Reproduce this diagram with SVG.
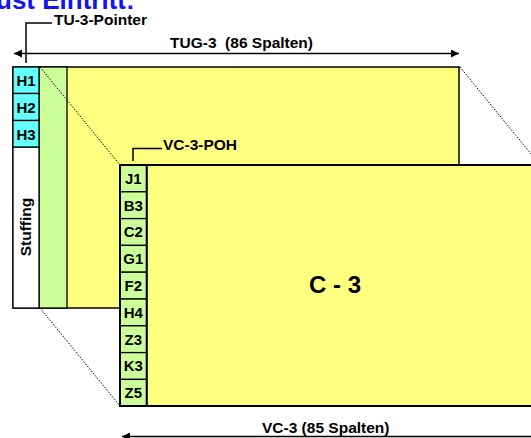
<svg xmlns="http://www.w3.org/2000/svg" width="531" height="438" viewBox="0 0 531 438">
<style>
text{font-family:"Liberation Sans",Arial,sans-serif;font-weight:bold;fill:#000}
.lbl{font-size:15.5px}
.cell{font-size:15px;text-anchor:middle}
.cy{fill:#66FFFF;stroke:#000;stroke-width:1.3}
.gr{fill:#CCFF99;stroke:#000;stroke-width:1.3}
.ye{fill:#FFFF80;stroke:#000;stroke-width:1.5}
.dot{stroke:#000;stroke-width:1;stroke-dasharray:1.5 1.5;fill:none}
.ln{stroke:#000;stroke-width:1.5;fill:none}
</style>
<defs>
<marker id="ah" viewBox="0 0 10 10" refX="10" refY="5" markerWidth="10" markerHeight="8" markerUnits="userSpaceOnUse" orient="auto-start-reverse">
<path d="M0,0 L10,5 L0,10 z" fill="#000"/>
</marker>
</defs>
<text x="-4" y="9" style="font-size:26px;fill:#1414F0">ust Eintritt:</text>

<g id="tug3">
<rect class="ye" x="13" y="67" width="446" height="241"/>
<rect class="gr" x="39" y="67" width="28" height="241"/>
<rect x="13" y="147" width="26" height="161" fill="#fff" stroke="#000" stroke-width="1.3"/>
<text class="lbl" transform="translate(31,227) rotate(-90)" text-anchor="middle">Stuffing</text>
</g>
<g id="h1"><rect class="cy" x="13" y="67" width="26" height="26.5"/><text class="cell" x="26" y="85.5">H1</text></g>
<g id="h2"><rect class="cy" x="13" y="93.5" width="26" height="27"/><text class="cell" x="26" y="112.5">H2</text></g>
<g id="h3"><rect class="cy" x="13" y="120.5" width="26" height="26.5"/><text class="cell" x="26" y="139.5">H3</text></g>

<g id="connectors">
<line class="dot" x1="40" y1="67" x2="120" y2="165"/>
<line class="dot" x1="40" y1="308" x2="120" y2="406"/>
<line class="dot" x1="460" y1="67" x2="540" y2="165"/>
<line class="ln" x1="14" y1="53.5" x2="459" y2="53.5" marker-start="url(#ah)" marker-end="url(#ah)"/>
<line class="ln" x1="122" y1="436.5" x2="545" y2="436.5" marker-start="url(#ah)" marker-end="url(#ah)"/>
<polyline class="ln" points="26,63 26,23 52,23"/>
<polyline class="ln" points="133,161 133,148.5 162,148.5"/>
</g>

<g id="vc3">
<rect x="120" y="165" width="425" height="241" fill="#FFFF80" stroke="#000" stroke-width="2"/>
<text x="309" y="293" style="font-size:24px">C - 3</text>
</g>
<g id="poh">
<rect class="gr" x="120" y="165" width="26.7" height="26.8"/><text class="cell" x="133.3" y="183.8">J1</text>
<rect class="gr" x="120" y="191.8" width="26.7" height="26.8"/><text class="cell" x="133.3" y="210.6">B3</text>
<rect class="gr" x="120" y="218.6" width="26.7" height="26.8"/><text class="cell" x="133.3" y="237.4">C2</text>
<rect class="gr" x="120" y="245.4" width="26.7" height="26.8"/><text class="cell" x="133.3" y="264.2">G1</text>
<rect class="gr" x="120" y="272.2" width="26.7" height="26.8"/><text class="cell" x="133.3" y="291">F2</text>
<rect class="gr" x="120" y="299" width="26.7" height="26.8"/><text class="cell" x="133.3" y="317.8">H4</text>
<rect class="gr" x="120" y="325.8" width="26.7" height="26.8"/><text class="cell" x="133.3" y="344.6">Z3</text>
<rect class="gr" x="120" y="352.6" width="26.7" height="26.8"/><text class="cell" x="133.3" y="371.4">K3</text>
<rect class="gr" x="120" y="379.4" width="26.7" height="26.6"/><text class="cell" x="133.3" y="398.2">Z5</text>
<rect x="120" y="165" width="26.7" height="241" fill="none" stroke="#000" stroke-width="2"/>
</g>

<g id="labels">
<text class="lbl" x="54" y="25">TU-3-Pointer</text>
<text class="lbl" x="170" y="48" style="white-space:pre">TUG-3  (86 Spalten)</text>
<text class="lbl" x="163" y="150">VC-3-POH</text>
<text class="lbl" x="262" y="433">VC-3 (85 Spalten)</text>
</g>
</svg>
